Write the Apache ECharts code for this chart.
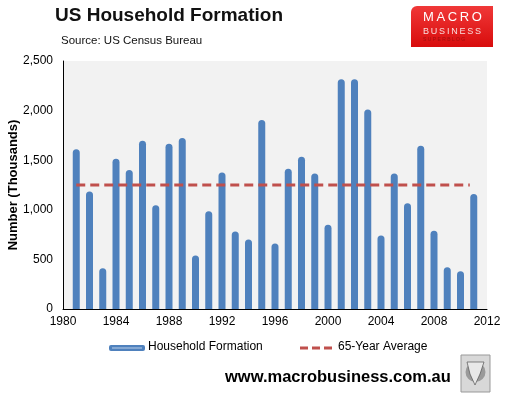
<!DOCTYPE html>
<html><head><meta charset="utf-8">
<script src="https://cdn.jsdelivr.net/npm/echarts@6/dist/echarts.min.js"></script>
<style>html,body{margin:0;padding:0;background:#fff}#c{width:508px;height:396px}</style>
</head><body><div id="c"></div>
<script>
var years = [1981,1982,1983,1984,1985,1986,1987,1988,1989,1990,1991,1992,1993,1994,1995,1996,1997,1998,1999,2000,2001,2002,2003,2004,2005,2006,2007,2008,2009,2010,2011];
var formation = [1610,1185,410,1515,1400,1695,1045,1665,1725,540,985,1375,780,700,1905,660,1415,1535,1365,850,2315,2315,2010,740,1365,1065,1645,790,420,380,1160];
var avgValue = 1250;
var avgRange = [1981, 2010.7];
var yTicks = [0,500,1000,1500,2000,2500];
var xTicks = [1980,1984,1988,1992,1996,2000,2004,2008,2012];

var chart = echarts.init(document.getElementById('c'), null, {renderer:'canvas'});
var barData = years.map(function(y,i){return [y, formation[i]];});
var avgData = avgRange.map(function(y){return [y, avgValue];});
var font = 'Arial, "Liberation Sans", sans-serif';
var ts = '\u2009';
chart.setOption({
  animation:false,
  textStyle:{fontFamily:font},
  grid:{left:63, right:21, top:61, bottom:87, backgroundColor:'#f2f2f2', show:true, borderWidth:0, outerBoundsMode:'none', containLabel:false},
  xAxis:{type:'value', min:1980, max:2012, interval:4,
    axisLine:{show:true, lineStyle:{color:'#000', width:1}},
    axisTick:{show:false}, splitLine:{show:false},
    axisLabel:{color:'#000', fontSize:12, margin:7, fontFamily:font,
      formatter:function(v){return xTicks.indexOf(v)>=0?String(v):'';}}},
  yAxis:{type:'value', min:0, max:2500, interval:500,
    name:'Number (Thousands)', nameLocation:'middle', nameGap:43, nameMoveOverlap:false,
    nameTextStyle:{fontWeight:'bold', fontSize:13, color:'#000', fontFamily:font},
    axisLine:{show:true, lineStyle:{color:'#000', width:1}},
    axisTick:{show:false}, splitLine:{show:false},
    axisLabel:{color:'#000', fontSize:12, margin:10, fontFamily:font,
      formatter:function(v){return yTicks.indexOf(v)>=0?v.toLocaleString('en-US'):'';}}},
  legend:{show:false},
  series:[
    {type:'bar', name:'Household Formation', data:barData, barWidth:7,
      itemStyle:{color:'#4f81bd', borderRadius:[3.5,3.5,0,0]}},
    {type:'line', name:'65-Year Average', data:avgData, symbol:'none',
      lineStyle:{color:'#c0504d', width:3, type:[9,5]}}
  ],
  graphic:[
    {type:'text', left:55, top:6, style:{text:'US Household Formation', font:'bold 19px '+font, fill:'#111'}},
    {type:'text', left:61, top:35, style:{text:'Source: US Census Bureau', font:'11.5px '+font, fill:'#111'}},
    {type:'rect', shape:{x:411, y:6, width:82, height:41, r:[6,0,0,0]}, style:{fill:{type:'linear',x:0,y:0,x2:0,y2:1,colorStops:[{offset:0,color:'#f03838'},{offset:1,color:'#d80c0c'}]}}},
    {type:'text', left:423, top:11, style:{text:'M'+ts+'A'+ts+'C'+ts+'R'+ts+'O', font:'13px '+font, fill:'#fff'}},
    {type:'text', left:423, top:27, style:{text:'B'+ts+'U'+ts+'S'+ts+'I'+ts+'N'+ts+'E'+ts+'S'+ts+'S', font:'9px '+font, fill:'#f8dede'}},
    {type:'text', left:423, top:37, style:{text:'S U P E R B L O G', font:'5px '+font, fill:'#a01010'}},
    {type:'rect', shape:{x:109, y:345, width:36, height:6, r:2}, style:{fill:'#4f81bd'}},
    {type:'line', shape:{x1:112, y1:348, x2:142, y2:348}, style:{stroke:'#bcd0ea', lineWidth:1}},
    {type:'text', left:148, top:341, style:{text:'Household Formation', font:'12px '+font, fill:'#000'}},
    {type:'line', shape:{x1:300, y1:348, x2:333, y2:348}, style:{stroke:'#c0504d', lineWidth:3, lineDash:[8,4]}},
    {type:'text', left:338, top:341, style:{text:'65-Year Average', font:'12px '+font, fill:'#000'}},
    {type:'text', left:225, top:369, style:{text:'www.macrobusiness.com.au', font:'bold 16.5px '+font, fill:'#000'}},
    {type:'rect', shape:{x:461, y:355, width:29, height:37}, style:{fill:'#d8d8d8', stroke:'#999', lineWidth:1}},
    {type:'circle', shape:{cx:475.5, cy:372, r:10}, style:{fill:'#9a9a9a'}},
    {type:'polygon', shape:{points:[[467,362],[470,374],[475,385],[480,374],[484,362]]}, style:{fill:'#e8e8e8', stroke:'#555', lineWidth:0.7}}
  ]
});
</script></body></html>
